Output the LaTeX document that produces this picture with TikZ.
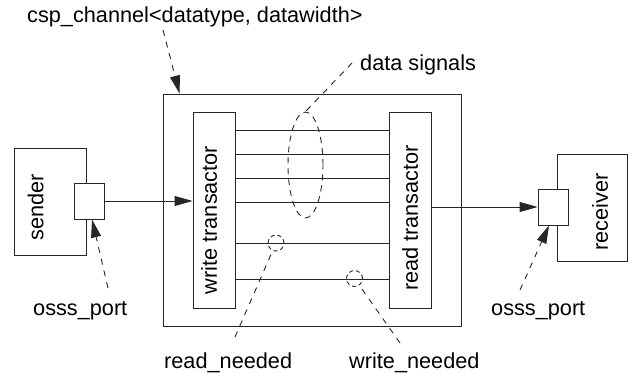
\documentclass[tikz,border=0pt]{standalone}
\usepackage{fontspec}
\setmainfont{Liberation Sans}
\usetikzlibrary{arrows.meta,shapes.geometric,calc}
\tikzset{
  box/.style={draw=black!85,line width=0.9pt,inner sep=0pt,minimum width=#1},
  lbl/.style={inner sep=0pt,anchor=base west},
  rlbl/.style={inner sep=0pt,rotate=90},
  sig/.style={draw=black!85,line width=0.9pt},
  arr/.style={draw=black!85,line width=0.9pt,-{Triangle[length=18pt,width=10pt]}},
  darr/.style={draw=black!85,line width=0.9pt,dash pattern=on 6pt off 6pt,-{Triangle[length=18pt,width=10pt]}},
  lead/.style={draw=black!85,line width=0.9pt,dash pattern=on 6pt off 6pt},
  ring/.style={draw=black!85,line width=0.9pt,dash pattern=on 4pt off 3pt,circle,inner sep=0pt,minimum size=16pt},
}
\begin{document}
\begin{tikzpicture}[x=1pt,y=-1pt,font=\fontsize{21.7}{26}\selectfont]
\useasboundingbox (0,0) rectangle (632,374);
% channel
\node[box=298pt,minimum height=232pt] (ch) at (312,210) {};
\node[box=42pt,minimum height=196pt] (wt) at (214,210) {};
\node[box=42pt,minimum height=196pt] (rt) at (410,210) {};
\node[rlbl] (wtl) at (209,220) {write transactor};
\node[rlbl] (rtl) at (410,218) {read transactor};
% sender / receiver
\node[box=72pt,minimum height=107pt] (snd) at (50,201.5) {};
\node[rlbl] (sndl) at (35.5,207) {sender};
\node[box=30pt,minimum height=36pt,fill=white] (sp) at (89,201) {};
\node[box=70pt,minimum height=107pt] (rcv) at (592,207.5) {};
\node[rlbl] (rcvl) at (600,212) {receiver};
\node[box=30pt,minimum height=36pt,fill=white] (rp) at (553,207) {};
% signal lines
\foreach \y/\n in {130/a,154/b,178/c,202/d,243/e,279/f}{
  \coordinate (y\n) at (0,\y);
  \draw[sig] (wt.east |- y\n) -- (rt.west |- y\n);
}
% port arrows
\draw[arr] (sp.east) -- (wt.west |- sp.east);
\draw[arr] (rt.east |- rp.west) -- (rp.west);
% ellipse and rings
\node[draw=black!85,line width=0.9pt,dash pattern=on 6pt off 5pt,ellipse,inner sep=0pt,minimum width=35pt,minimum height=106pt] (ds) at (305.5,165) {};
\node[ring] (rn) at (276,243) {};
\node[ring] (wn) at (354.5,278.5) {};
% labels
\node[lbl] (csp) at (27,23) {csp\_channel<datatype, datawidth>};
\node[lbl] (dsl) at (360,70.5) {data signals};
\node[lbl] (sop) at (33,315) {osss\_port};
\node[lbl] (rop) at (491,315) {osss\_port};
\node[lbl] (rnl) at (164,368) {read\_needed};
\node[lbl] (wnl) at (349,368) {write\_needed};
% leaders
\coordinate (csptail) at (163,30);
\coordinate (dstail) at (352,63);
\coordinate (soptail) at (108,288);
\coordinate (roptail) at (520,290);
\coordinate (rntail) at (235,337);
\coordinate (wntail) at (400,343);
\draw[darr] (csptail) -- ([xshift=17pt]ch.north west);
\draw[darr] (soptail) -- ([xshift=3pt]sp.south);
\draw[darr] (roptail) -- ([xshift=-4pt]rp.south);
\draw[lead] (dstail) -- (ds.north);
\draw[lead] (rntail) -- (rn);
\draw[lead] (wntail) -- (wn);
\end{tikzpicture}
\end{document}
